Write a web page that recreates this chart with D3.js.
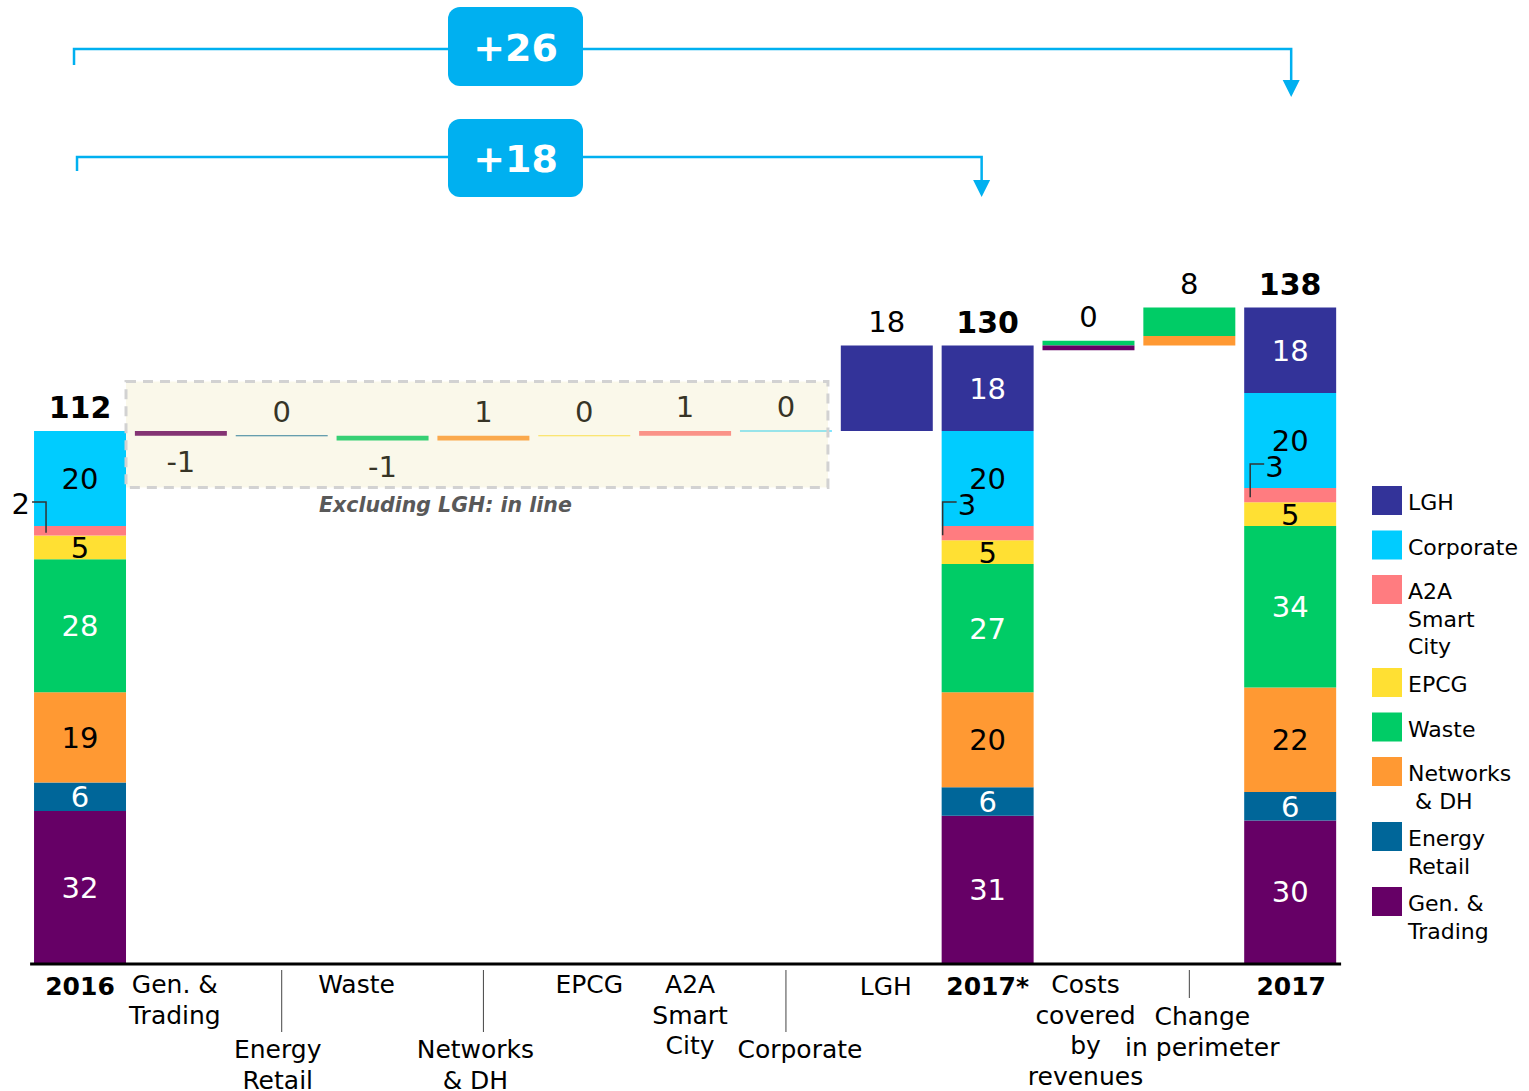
<!DOCTYPE html>
<html>
<head>
<meta charset="utf-8">
<script src="https://cdn.jsdelivr.net/npm/d3@7"></script>
<style>
  body { margin: 0; background: #fff; }
  svg { display: block; }
  text { font-family: "DejaVu Sans", Verdana, sans-serif; }
</style>
</head>
<body>
<svg id="chart" width="1529" height="1091"></svg>
<script>
// Business units, listed from the bottom of a stacked bar to its top
const segments = ["Gen. & Trading", "Energy Retail", "Networks & DH", "Waste", "EPCG", "A2A Smart City", "Corporate", "LGH"];
const segmentColors = ["#660066", "#006699", "#FF9933", "#00CC66", "#FFE033", "#FF7C80", "#00CCFF", "#333399"];
const segmentTextColors = ["#fff", "#fff", "#000", "#fff", "#000", "#000", "#000", "#fff"];

// Columns along the x axis
const columns = ["2016", "Gen. & Trading", "Energy Retail", "Waste", "Networks & DH", "EPCG",
  "A2A Smart City", "Corporate", "LGH", "2017*", "Costs covered by revenues", "Change in perimeter", "2017"];

// Stacked totals (same order as segments)
const values2016 = [32, 6, 19, 28, 5, 2, 20, 0];
const values2017Star = [31, 6, 20, 27, 5, 3, 20, 18];
const values2017 = [30, 6, 22, 34, 5, 3, 20, 18];
const totals = [112, 130, 138];

// Bridge 2016 -> 2017*
const bridgeSegments = ["Gen. & Trading", "Energy Retail", "Waste", "Networks & DH", "EPCG", "A2A Smart City", "Corporate", "LGH"];
const bridgeValues = [-1, 0, -1, 1, 0, 1, 0, 18];

// Bridge 2017* -> 2017
const costsSegments = ["Waste", "Gen. & Trading"];
const costsValues = [1, -1];
const perimeterSegments = ["Networks & DH", "Waste"];
const perimeterValues = [2, 6];

// Legend, top to bottom
const legendItems = ["LGH", "Corporate", "A2A Smart City", "EPCG", "Waste", "Networks & DH", "Energy Retail", "Gen. & Trading"];
const legendLines = [["LGH"], ["Corporate"], ["A2A", "Smart", "City"], ["EPCG"], ["Waste"], ["Networks", "\u00a0& DH"], ["Energy", "Retail"], ["Gen. &", "Trading"]];

const svg = d3.select("#chart");
const color = d3.scaleOrdinal().domain(segments).range(segmentColors);
const textColor = d3.scaleOrdinal().domain(segments).range(segmentTextColors);

const x = d3.scaleBand().domain(columns).range([29.6, 1340.6]).paddingInner(0.088).paddingOuter(0.044);
const bw = x.bandwidth();
const xc = c => x(c) + bw / 2;
const y = d3.scaleLinear().domain([0, 138]).range([963, 963 - 138 * 4.75]);

const gBars = svg.append("g");
const gLabels = svg.append("g");

// ---- stacked total bars ----
const stackedBars = [
  { col: "2016", values: values2016, total: totals[0], leader: { mode: "outside", offset: 12 } },
  { col: "2017*", values: values2017Star, total: totals[1], leader: { mode: "inside", offset: 1 } },
  { col: "2017", values: values2017, total: totals[2], leader: { mode: "inside", offset: 6 } }
];

stackedBars.forEach(bar => {
  const stack = d3.stack().keys(segments)([Object.fromEntries(segments.map((s, i) => [s, bar.values[i]]))]);
  const x0 = x(bar.col);
  stack.forEach(layer => {
    const [lo, hi] = layer[0];
    if (hi - lo <= 0) return;
    gBars.append("rect")
      .attr("x", x0).attr("width", bw)
      .attr("y", y(hi)).attr("height", y(lo) - y(hi))
      .attr("fill", color(layer.key));
    const midY = (y(lo) + y(hi)) / 2;
    if (layer.key === "A2A Smart City") {
      // small slice: value sits on a leader line
      const lineY = y(hi) - 24;
      const endY = midY + 2;
      const L = bar.leader;
      if (L.mode === "outside") {
        gLabels.append("path")
          .attr("d", `M${x0 - 2},${lineY}H${x0 + L.offset}V${endY}`)
          .attr("fill", "none").attr("stroke", "#333").attr("stroke-width", 1.5);
        gLabels.append("text").attr("x", x0 - 4).attr("y", lineY + 12)
          .attr("text-anchor", "end").attr("font-size", 29).attr("fill", "#000")
          .text(hi - lo);
      } else {
        gLabels.append("path")
          .attr("d", `M${x0 + L.offset + 14},${lineY}H${x0 + L.offset}V${endY}`)
          .attr("fill", "none").attr("stroke", "#333").attr("stroke-width", 1.5);
        gLabels.append("text").attr("x", x0 + L.offset + 15).attr("y", lineY + 13)
          .attr("text-anchor", "start").attr("font-size", 29).attr("fill", "#000")
          .text(hi - lo);
      }
    } else {
      gLabels.append("text")
        .attr("x", xc(bar.col)).attr("y", midY + 10.5)
        .attr("text-anchor", "middle").attr("font-size", 29)
        .attr("fill", textColor(layer.key))
        .text(hi - lo);
    }
  });
  gLabels.append("text")
    .attr("x", xc(bar.col)).attr("y", y(bar.total) - 13)
    .attr("text-anchor", "middle").attr("font-size", 30).attr("font-weight", "bold")
    .attr("fill", "#000").text(bar.total);
});

// ---- bridge 2016 -> 2017* ----
let running = totals[0];
const gBridgeLabels = svg.append("g");
bridgeSegments.forEach((seg, i) => {
  const v = bridgeValues[i];
  const start = running, end = running + v;
  const top = y(Math.max(start, end)), bottom = y(Math.min(start, end));
  const h = Math.max(bottom - top, 1);
  gBars.append("rect")
    .attr("x", x(seg)).attr("width", bw)
    .attr("y", v === 0 ? top - 0.5 : top).attr("height", h)
    .attr("fill", color(seg));
  gBridgeLabels.append("text")
    .attr("x", xc(seg)).attr("y", v < 0 ? bottom + 36 : top - 14)
    .attr("text-anchor", "middle").attr("font-size", 29).attr("fill", "#000")
    .text(v);
  running = end;
});

// ---- bridge 2017* -> 2017 ----
function stepColumn(col, segs, vals) {
  let up = running, down = running;
  segs.forEach((seg, i) => {
    const v = vals[i];
    let lo, hi;
    if (v >= 0) { lo = up; hi = up + v; up = hi; }
    else { hi = down; lo = down + v; down = lo; }
    gBars.append("rect")
      .attr("x", x(col)).attr("width", bw)
      .attr("y", y(hi)).attr("height", y(lo) - y(hi))
      .attr("fill", color(seg));
  });
  const net = d3.sum(vals);
  gLabels.append("text")
    .attr("x", xc(col)).attr("y", y(up) - 14)
    .attr("text-anchor", "middle").attr("font-size", 29).attr("fill", "#000")
    .text(net);
  running += net;
}
stepColumn("Costs covered by revenues", costsSegments, costsValues);
stepColumn("Change in perimeter", perimeterSegments, perimeterValues);

// ---- "excluding LGH" highlight box over the small steps ----
const boxX0 = x("2016") + bw, boxX1 = x("Corporate") + bw - 4;
const boxY0 = y(totals[0]) - 49.5, boxY1 = y(totals[0]) + 56.5;
svg.append("rect")
  .attr("x", boxX0).attr("y", boxY0)
  .attr("width", boxX1 - boxX0).attr("height", boxY1 - boxY0)
  .attr("fill", "rgb(233,224,163)").attr("fill-opacity", 0.23)
  .attr("stroke", "#d2d2d2").attr("stroke-width", 3).attr("stroke-dasharray", "10 7");
svg.append("text")
  .attr("x", xc("Networks & DH") - 38).attr("y", boxY1 + 24)
  .attr("text-anchor", "middle").attr("font-size", 20.5)
  .attr("font-weight", "bold").attr("font-style", "italic").attr("fill", "#595959")
  .text("Excluding LGH: in line");

// ---- x axis ----
const axis = svg.append("g").attr("transform", `translate(0,${y(0) + 0.5})`)
  .call(d3.axisBottom(x).tickSize(0).tickFormat(""));
axis.select(".domain").attr("stroke", "#000").attr("stroke-width", 3);

// column captions: first baseline and nudge per column
const captionLayout = {
  "2016": { lines: ["2016"], bold: true, y0: 995, dx: 0 },
  "Gen. & Trading": { lines: ["Gen. &", "Trading"], y0: 993, dx: -6 },
  "Energy Retail": { lines: ["Energy", "Retail"], y0: 1058, dx: -4 },
  "Waste": { lines: ["Waste"], y0: 993, dx: -26 },
  "Networks & DH": { lines: ["Networks", "& DH"], y0: 1058, dx: -8 },
  "EPCG": { lines: ["EPCG"], y0: 993, dx: 5 },
  "A2A Smart City": { lines: ["A2A", "Smart", "City"], y0: 993, dx: 5 },
  "Corporate": { lines: ["Corporate"], y0: 1058, dx: 14 },
  "LGH": { lines: ["LGH"], y0: 995, dx: -1 },
  "2017*": { lines: ["2017*"], bold: true, y0: 995, dx: 0 },
  "Costs covered by revenues": { lines: ["Costs", "covered", "by", "revenues"], y0: 993, dx: -3 },
  "Change in perimeter": { lines: ["Change", "in perimeter"], y0: 1025, dx: 13 },
  "2017": { lines: ["2017"], bold: true, y0: 995, dx: 1 }
};
const gCap = svg.append("g");
columns.forEach(col => {
  const L = captionLayout[col];
  const t = gCap.append("text")
    .attr("x", xc(col) + L.dx).attr("y", L.y0)
    .attr("text-anchor", "middle").attr("font-size", 25)
    .attr("font-weight", L.bold ? "bold" : "normal").attr("fill", "#000");
  L.lines.forEach((ln, i) => {
    t.append("tspan").attr("x", xc(col) + L.dx).attr("dy", i === 0 ? 0 : 30.5).text(ln);
  });
});
// separators between staggered captions
[["Energy Retail", 1032], ["Networks & DH", 1032], ["Corporate", 1032], ["Change in perimeter", 998]].forEach(([col, yEnd]) => {
  gCap.append("line")
    .attr("x1", xc(col)).attr("x2", xc(col))
    .attr("y1", 970).attr("y2", yEnd)
    .attr("stroke", "#444").attr("stroke-width", 1);
});

// ---- legend ----
const gLeg = svg.append("g");
let ly = 486;
legendItems.forEach((seg, i) => {
  const lines = legendLines[i];
  gLeg.append("rect").attr("x", 1372).attr("y", ly).attr("width", 30).attr("height", 29)
    .attr("fill", color(seg));
  const t = gLeg.append("text").attr("x", 1408).attr("y", ly + 24)
    .attr("font-size", 22).attr("fill", "#000");
  lines.forEach((ln, j) => {
    t.append("tspan").attr("x", 1408).attr("dy", j === 0 ? 0 : 27.5).text(ln);
  });
  ly += 44.5 + (lines.length === 3 ? 48.5 : lines.length === 2 ? 20.5 : 0);
});

// ---- growth callouts ----
const accent = "#00B0F0";
const callouts = [
  { from: "2016", fromDx: -6, to: "2017", toDx: 1, lineY: 49, tickY: 65, tipY: 97, boxY: 7, boxH: 79, value: totals[2] - totals[0] },
  { from: "2016", fromDx: -3, to: "2017*", toDx: -6, lineY: 157, tickY: 171, tipY: 197, boxY: 119, boxH: 78, value: totals[1] - totals[0] }
];
const gCall = svg.append("g");
callouts.forEach(c => {
  const sx = xc(c.from) + c.fromDx, ex = xc(c.to) + c.toDx;
  gCall.append("path")
    .attr("d", `M${sx},${c.tickY}V${c.lineY}H${ex}V${c.tipY - 15}`)
    .attr("fill", "none").attr("stroke", accent).attr("stroke-width", 2.5);
  gCall.append("path")
    .attr("d", `M${ex - 8.5},${c.tipY - 17}L${ex + 8.5},${c.tipY - 17}L${ex},${c.tipY}Z`)
    .attr("fill", accent);
  gCall.append("rect")
    .attr("x", 448).attr("y", c.boxY).attr("width", 135).attr("height", c.boxH)
    .attr("rx", 12).attr("fill", accent);
  gCall.append("text")
    .attr("x", 515.5).attr("y", c.boxY + c.boxH / 2 + 14)
    .attr("text-anchor", "middle").attr("font-size", 38).attr("font-weight", "bold")
    .attr("fill", "#fff").text("+" + c.value);
});
</script>
</body>
</html>
